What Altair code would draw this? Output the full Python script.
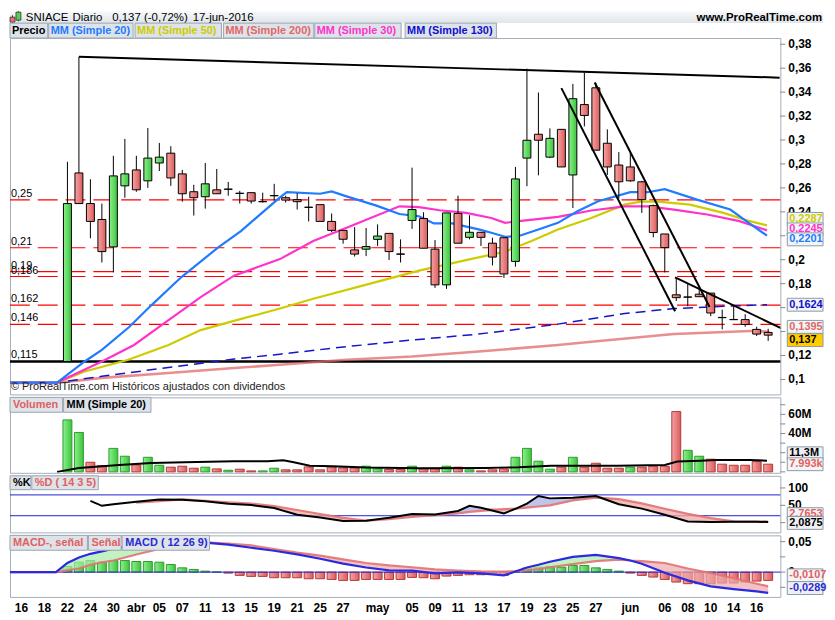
import altair as alt
import pandas as pd

# ====================== DATA ======================
# x = trading-day index counted from 16-mar-2016 (0) to 17-jun-2016 (65)
tick_idx = [0, 2, 4, 6, 8, 10, 12, 14, 16, 18, 20, 22, 24, 26, 28, 31, 34, 36, 38, 40,
            42, 44, 46, 48, 50, 53, 56, 58, 60, 62, 64]
tick_txt = ["16", "18", "22", "24", "30", "abr", "05", "07", "11", "13", "15", "19", "21",
            "25", "27", "may", "05", "09", "11", "13", "17", "19", "23", "25", "27", "jun",
            "06", "08", "10", "14", "16"]

# ---- daily candles (index 4 .. 65) ----
cdl_idx = list(range(4, 66))
cdl_open = [0.1150, 0.2725, 0.2469, 0.2336, 0.2107, 0.2617, 0.2750, 0.2659, 0.2808, 0.2890,
            0.2717, 0.2568, 0.2526, 0.2584, 0.2590, 0.2556, 0.2560, 0.2486, 0.2536, 0.2518,
            0.2502, 0.2439, 0.2460, 0.2320, 0.2245, 0.2082, 0.2088, 0.2170, 0.2220, 0.2048,
            0.2328, 0.2344, 0.2088, 0.1790, 0.2386, 0.2187, 0.2229, 0.2138, 0.2184, 0.1986,
            0.2849, 0.3048, 0.2857, 0.3089, 0.2708, 0.3296, 0.3436, 0.2973, 0.2791, 0.2775,
            0.2651, 0.2452, 0.2215, 0.1707, 0.1689, 0.1712, 0.1721, 0.1518, 0.1501, 0.1500,
            0.1418, 0.1393]
cdl_high = [0.2818, 0.3695, 0.2672, 0.2469, 0.2868, 0.3009, 0.2868, 0.3100, 0.2976, 0.2948,
            0.2750, 0.2626, 0.2808, 0.2758, 0.2650, 0.2575, 0.2560, 0.2560, 0.2634, 0.2535,
            0.2556, 0.2526, 0.2460, 0.2386, 0.2245, 0.2272, 0.2265, 0.2295, 0.2220, 0.2170,
            0.2769, 0.2397, 0.2165, 0.2391, 0.2535, 0.2372, 0.2229, 0.2184, 0.2184, 0.2775,
            0.3596, 0.3397, 0.3097, 0.3090, 0.3469, 0.3563, 0.3478, 0.3089, 0.2899, 0.2899,
            0.2659, 0.2460, 0.2215, 0.1853, 0.1799, 0.1771, 0.1721, 0.1583, 0.1619, 0.1545,
            0.1440, 0.1423]
cdl_low = [0.1150, 0.2469, 0.2179, 0.1977, 0.1894, 0.2518, 0.2568, 0.2600, 0.2741, 0.2617,
           0.2485, 0.2369, 0.2427, 0.2551, 0.2535, 0.2469, 0.2469, 0.2477, 0.2494, 0.2477,
           0.2419, 0.2320, 0.2320, 0.2230, 0.2134, 0.2027, 0.2030, 0.2115, 0.1997, 0.1977,
           0.2258, 0.2096, 0.1765, 0.1757, 0.2138, 0.2170, 0.2115, 0.1952, 0.1848, 0.1942,
           0.2614, 0.2705, 0.2849, 0.2775, 0.2432, 0.3114, 0.2915, 0.2708, 0.2510, 0.2651,
           0.2391, 0.2187, 0.1894, 0.1655, 0.1611, 0.1691, 0.1528, 0.1418, 0.1500, 0.1440,
           0.1363, 0.1322]
cdl_close = [0.2469, 0.2469, 0.2320, 0.2068, 0.2700, 0.2717, 0.2584, 0.2849, 0.2857, 0.2683,
             0.2551, 0.2518, 0.2634, 0.2551, 0.2588, 0.2553, 0.2490, 0.2484, 0.2534, 0.2498,
             0.2485, 0.2437, 0.2320, 0.2245, 0.2171, 0.2047, 0.2110, 0.2198, 0.2068, 0.2046,
             0.2419, 0.2096, 0.1790, 0.2391, 0.2138, 0.2229, 0.2187, 0.2022, 0.1881, 0.2675,
             0.2998, 0.2998, 0.3014, 0.2775, 0.3345, 0.3205, 0.2915, 0.2775, 0.2651, 0.2659,
             0.2502, 0.2227, 0.2101, 0.1683, 0.1687, 0.1691, 0.1555, 0.1516, 0.1499, 0.1459,
             0.1379, 0.1370]

# ---- moving averages on price ----
ma20_idx = [-1.47, 3.1, 5.5, 7.0, 9.4, 11.3, 13.9, 17.1, 19.1, 22.5, 23.1, 26.0, 27.0, 28.3,
            30.9, 32.9, 34.6, 35.9, 37.5, 39.8, 40.9, 42.1, 43.3, 45.0, 46.7, 48.4, 50.2, 53.0,
            54.5, 56.0, 58.8, 61.7, 63.1, 64.9]
ma20_val = [0.0974, 0.0974, 0.1150, 0.1247, 0.1440, 0.1619, 0.1853, 0.2101, 0.2239, 0.2521,
            0.2564, 0.2551, 0.2570, 0.2529, 0.2452, 0.2382, 0.2363, 0.2303, 0.2303, 0.2253,
            0.2225, 0.2192, 0.2198, 0.2253, 0.2308, 0.2405, 0.2488, 0.2564, 0.2564, 0.2589,
            0.2502, 0.2419, 0.2322, 0.2201]
ma50_idx = [-1.47, 3.1, 5.5, 9.3, 12.8, 15.6, 18.5, 22.5, 25.4, 29.7, 34.6, 38.7, 42.1, 44.4,
            46.7, 49.6, 52.5, 53.9, 55.4, 58.2, 61.1, 63.4, 64.9]
ma50_val = [0.0974, 0.0974, 0.1067, 0.1164, 0.1288, 0.1412, 0.1489, 0.1592, 0.1674, 0.1784,
            0.1909, 0.1997, 0.2068, 0.2157, 0.2253, 0.2349, 0.2460, 0.2485, 0.2485, 0.2460,
            0.2391, 0.2322, 0.2287]
ma200_idx = [-1.47, 3.1, 7.0, 12.8, 18.5, 22.5, 28.3, 34.0, 39.8, 46.7, 49.6, 56.8, 64.0, 65.1]
ma200_val = [0.0971, 0.0971, 0.1013, 0.1054, 0.1095, 0.1123, 0.1164, 0.1191, 0.1233, 0.1288,
             0.1315, 0.1379, 0.1406, 0.1395]
ma30_idx = [-1.47, 3.1, 7.0, 9.8, 12.8, 15.6, 18.5, 22.5, 25.4, 28.3, 32.9, 34.6, 36.4, 38.7,
            40.9, 42.1, 43.3, 46.7, 49.6, 52.5, 54.5, 56.8, 59.7, 62.5, 64.9]
ma30_val = [0.0974, 0.0974, 0.1150, 0.1288, 0.1495, 0.1688, 0.1867, 0.2005, 0.2157, 0.2267,
            0.2446, 0.2440, 0.2413, 0.2391, 0.2349, 0.2308, 0.2322, 0.2358, 0.2411, 0.2446,
            0.2446, 0.2419, 0.2378, 0.2322, 0.2245]
ma130_idx = [-1.47, 3.1, 7.0, 12.8, 18.5, 22.5, 28.3, 34.0, 39.8, 46.7, 52.5, 56.8, 61.1, 64.9]
ma130_val = [0.0974, 0.0974, 0.1026, 0.1100, 0.1170, 0.1211, 0.1274, 0.1329, 0.1379, 0.1462,
             0.1550, 0.1592, 0.1611, 0.1624]

# ---- drawn levels and trend lines ----
level_red = [0.25, 0.21, 0.19, 0.186, 0.162, 0.146]
level_black = [0.115]
trend_id = ["a", "a", "b", "b", "c", "c", "d", "d"]
trend_idx = [5.0, 66.0, 47.0, 56.9, 49.9, 59.9, 56.9, 66.3]
trend_val = [0.3695, 0.3521, 0.3433, 0.1569, 0.3480, 0.1605, 0.1853, 0.1420]

# ---- volume (millions) ----
vol_idx = list(range(4, 66))
vol_m = [54.2, 41.1, 10.0, 6.5, 24.5, 16.3, 7.3, 15.2, 6.9, 4.9, 5.9, 3.8, 4.9, 3.1, 1.7, 2.8,
         1.0, 1.0, 3.8, 2.1, 2.1, 5.2, 2.1, 4.9, 4.1, 4.1, 5.9, 3.1, 2.4, 2.4, 5.9, 3.1, 3.1,
         5.9, 4.9, 2.1, 1.0, 2.1, 3.1, 15.2, 24.5, 11.1, 2.8, 4.9, 15.2, 4.9, 9.0, 3.8, 3.8,
         4.9, 4.9, 5.9, 5.9, 62.9, 22.5, 16.3, 13.2, 8.0, 6.9, 6.9, 10.7, 8.0]
vol_dir = ["u", "u", "d", "d", "u", "u", "d", "u", "u", "d", "d", "d", "u", "d", "u", "d", "d",
           "u", "u", "d", "d", "d", "d", "d", "d", "d", "u", "u", "d", "d", "u", "d", "d", "u",
           "d", "u", "d", "d", "d", "u", "u", "u", "u", "d", "u", "d", "d", "d", "d", "u", "d",
           "d", "d", "d", "u", "u", "d", "d", "d", "d", "d", "d"]
volma_idx = [3.1, 5.0, 8.5, 11.3, 14.2, 18.5, 21.4, 22.8, 23.7, 25.1, 27.1, 30.0, 34.6, 40.4,
             43.3, 46.1, 51.9, 56.0, 57.1, 59.1, 60.5, 63.4, 64.9]
volma_val = [0.0, 4.1, 7.2, 9.3, 10.0, 11.1, 11.1, 12.1, 10.0, 6.5, 5.9, 4.5, 3.8, 4.1, 4.9,
             6.5, 6.5, 7.2, 10.7, 11.7, 12.4, 12.4, 11.7]

# ---- stochastic %K / %D ----
k_early_idx = [6, 7, 8]
k_early_val = [62.9, 48.6, 53.0]
sto_idx = [10, 12, 14, 16, 18, 20, 22, 24, 26, 28, 30, 32, 34, 36, 38, 39, 40, 42, 43, 44, 45,
           46, 48, 50, 52, 54, 56, 58, 60, 62, 64, 65]
sto_k = [60.5, 67, 66.3, 62, 54.5, 50.6, 42, 23, 15, 5, 5.7, 14, 25, 23.7, 33.6, 48.6, 43,
         26.6, 40, 55, 77, 70, 71.5, 76.5, 53, 40.5, 22.7, 3.5, 1.7, 2.9, 2.5, 2.1]
sto_d = [57.7, 62, 67, 62.8, 58.4, 55, 47.5, 36.6, 25, 13.7, 5.7, 10.2, 16.7, 21.7, 27, 31,
         34.2, 39, 40.7, 43.3, 46.6, 50, 64, 72, 68, 55.5, 40, 25.4, 13, 3.7, 2.9, 2.8]

# ---- MACD (12 26 9) ----
mac_idx = [-1.47, 3, 4, 5, 6, 7, 8, 10, 12, 14, 16, 18, 20, 22, 24, 26, 28, 30, 32, 34, 36,
           38, 40, 42, 43, 44, 45, 46, 48, 50, 52, 53, 54, 56, 58, 60, 62, 64, 65]
mac_m = [0, 0, 0.015, 0.024, 0.030, 0.034, 0.0385, 0.045, 0.048, 0.050, 0.0485, 0.045, 0.040,
         0.035, 0.029, 0.022, 0.014, 0.0075, 0.003, 0.0025, -0.002, -0.0005, -0.002, -0.0054,
         0.001, 0.0075, 0.012, 0.017, 0.025, 0.0282, 0.023, 0.019, 0.0137, -0.001, -0.0136,
         -0.0233, -0.0278, -0.0316, -0.0342]
mac_s = [0, 0, 0.003, 0.006, 0.012, 0.016, 0.019, 0.029, 0.038, 0.045, 0.0489, 0.047, 0.044,
         0.038, 0.032, 0.027, 0.021, 0.015, 0.011, 0.008, 0.0045, 0.0025, 0.0012, 0.001,
         0.0015, 0.003, 0.005, 0.008, 0.013, 0.018, 0.0205, 0.019, 0.018, 0.015, 0.006,
         -0.0015, -0.0098, -0.019, -0.0233]
hist_idx = list(range(4, 66))
hist_val = [0.0093, 0.0163, 0.019, 0.0163, 0.019, 0.019, 0.0174, 0.0174, 0.0163, 0.0125,
            0.007, 0.0044, 0.0016, 0.0003, -0.0016, -0.0054, -0.007, -0.007, -0.0092, -0.0092,
            -0.0092, -0.0109, -0.0109, -0.012, -0.0136, -0.0136, -0.012, -0.012, -0.012,
            -0.012, -0.0087, -0.0092, -0.0109, -0.0065, -0.0054, -0.0043, -0.0043, -0.0033,
            -0.0054, 0.0011, 0.0065, 0.0081, 0.0093, 0.0081, 0.0109, 0.0109, 0.007, 0.0044,
            0.0016, -0.0016, -0.0054, -0.0081, -0.012, -0.0163, -0.019, -0.019, -0.019,
            -0.0179, -0.0179, -0.0163, -0.0147, -0.0136]

# ---- right-hand scales (tick values and labels; labels covered by value boxes are blank) ----
price_ticks = [0.1, 0.12, 0.14, 0.16, 0.18, 0.2, 0.22, 0.24, 0.26, 0.28, 0.3, 0.32, 0.34,
               0.36, 0.38]
price_tick_txt = ["0,1", "0,12", "", "", "0,18", "0,2", "", "0,24", "0,26", "0,28", "0,3",
                  "0,32", "0,34", "0,36", "0,38"]
vol_ticks = [0, 10, 20, 30, 40, 50, 60, 70]
vol_tick_txt = ["", "", "", "", "40M", "", "60M", ""]
sto_ticks = [0, 50, 100]
sto_tick_txt = ["", "50", "100"]
mac_ticks = [-0.025, 0, 0.025, 0.05]
mac_tick_txt = ["", "0", "", "0,05"]

# ---- texts ----
title_parts = ["SNIACE", "Diario", "0,137 (-0,72%)", "17-jun-2016"]
site_txt = "www.ProRealTime.com"
legend_txt = ["Precio", "MM (Simple 20)", "MM (Simple 50)", "MM (Simple 200)",
              "MM (Simple 30)", "MM (Simple 130)"]
watermark = "© ProRealTime.com  Históricos ajustados con dividendos"
vol_tags = ["Volumen", "MM (Simple 20)"]
sto_tags = ["%K", "%D ( 14 3 5)"]
mac_tags = ["MACD-, señal", "Señal", "MACD ( 12 26 9)"]
price_box_val = [0.2287, 0.2245, 0.2201, 0.1624, 0.1395, 0.137]
price_box_txt = ["0,2287", "0,2245", "0,2201", "0,1624", "0,1395", "0,137"]
vol_box_val = [11.3, 7.993]
vol_box_txt = ["11,3M", "7.993k"]
sto_box_val = [2.7653, 2.0875]
sto_box_txt = ["2,7653", "2,0875"]
mac_box_val = [-0.0107, -0.0289]
mac_box_txt = ["-0,0107", "-0,0289"]

# ====================== STYLE / LAYOUT ======================
FONT = "Liberation Sans"
W = 776
HH = 27
H1, H2, H3, H4 = 359, 76, 57, 62
X_DOM = [-1.0, 66.06]
P_DOM = [0.0875, 0.3852]
V_DOM = [-1.0, 77.7]
S_DOM = [-28.0, 135.0]
M_DOM = [-0.0407, 0.0603]
C_MA20, C_MA50, C_MA200, C_MA30, C_MA130 = "#1f7bff", "#cccc00", "#e06868", "#ff33cc", "#1414c8"
C_RED_TXT = "#e06060"
AX_GRAY = "#7f8b97"
TAG_FILL, TAG_STROKE = "#dde3e9", "#9aa5b0"

xs = alt.Scale(domain=X_DOM, nice=False, zero=False, padding=0)
ps = alt.Scale(domain=P_DOM, nice=False, zero=False, padding=0)
vs = alt.Scale(domain=V_DOM, nice=False, zero=False, padding=0)
ss = alt.Scale(domain=S_DOM, nice=False, zero=False, padding=0)
ms = alt.Scale(domain=M_DOM, nice=False, zero=False, padding=0)

one = pd.DataFrame({"k": [0]})


def grad(c0, c1):
    return alt.LinearGradient(gradient="linear", x1=0, x2=1, y1=0, y2=0,
                              stops=[alt.GradientStop(color=c0, offset=0),
                                     alt.GradientStop(color=c1, offset=1)])


G_UP = grad("#8ef08e", "#3cc43c")
G_DN = grad("#f6a3a3", "#dc5c5c")


def vrect(x0, x1, y0, y1, **kw):
    return alt.Chart(one).mark_rect(**kw).encode(
        x=alt.value(x0), x2=alt.value(x1), y=alt.value(y0), y2=alt.value(y1))


def vtext(x, y, s, **kw):
    opts = dict(font=FONT, fontSize=11, align="left", baseline="middle", color="black")
    opts.update(kw)
    return alt.Chart(one).mark_text(text=s, **opts).encode(x=alt.value(x), y=alt.value(y))


def tags(xr, texts, colors, y0, y1, pad=3):
    out = []
    for (a, b), t, c in zip(xr, texts, colors):
        out.append(vrect(a, b, y0, y1, fill=TAG_FILL, stroke=TAG_STROKE, strokeWidth=1))
        out.append(vtext(a + pad, (y0 + y1) / 2 + 0.5, t, fontWeight="bold", color=c))
    return out


def right_scale(vals, txts, sc):
    df = pd.DataFrame({"v": vals, "t": txts})
    return [
        alt.Chart(df).mark_rule(color=AX_GRAY, strokeWidth=1).encode(
            x=alt.value(W), x2=alt.value(W + 5), y=alt.Y("v:Q", scale=sc, axis=None)),
        alt.Chart(df).transform_filter(alt.datum.t != "").mark_text(
            font=FONT, fontSize=12, fontWeight="bold", color="black",
            align="left", baseline="middle").encode(
            x=alt.value(W + 8), y=alt.Y("v:Q", scale=sc, axis=None), text="t:N"),
    ]


def vboxes(vals, txts, shifts, fills, tcols, dom, H, sc):
    per_px = (dom[1] - dom[0]) / H
    pos = [v - s * per_px for v, s in zip(vals, shifts)]
    df = pd.DataFrame({"pos": pos, "txt": txts, "fill": fills, "tc": tcols})
    df["y0"] = df["pos"] + 6.5 * per_px
    df["y1"] = df["pos"] - 6.5 * per_px
    out = []
    for i in range(len(df)):
        b = alt.Chart(df.iloc[[i]])
        out.append(b.mark_rect(stroke="#8d99a5", strokeWidth=1).encode(
            x=alt.value(W + 7), x2=alt.value(W + 43),
            y=alt.Y("y0:Q", scale=sc, axis=None), y2="y1:Q",
            fill=alt.Fill("fill:N", scale=None)))
        out.append(b.mark_text(font=FONT, fontSize=11, fontWeight="bold", align="left",
                               baseline="middle").encode(
            x=alt.value(W + 9), y=alt.Y("pos:Q", scale=sc, axis=None), text="txt:N",
            color=alt.Color("tc:N", scale=None)))
    return out


def xq(field="idx"):
    return alt.X(f"{field}:Q", scale=xs, axis=None)


# ====================== HEADER ======================
hdr = [
    alt.Chart(one).mark_rect(fill=alt.LinearGradient(
        gradient="linear", x1=0, x2=0, y1=0, y2=1,
        stops=[alt.GradientStop(color="#f7f9fb", offset=0),
               alt.GradientStop(color="#dfe5ea", offset=1)])).encode(
        x=alt.value(0), x2=alt.value(W + 43), y=alt.value(0), y2=alt.value(12)),
    vrect(2, 3, 4, 12, fill="#333"),
    vrect(0, 5, 6, 11, fill="#ee7070", stroke="#333", strokeWidth=0.8),
    vrect(8, 9, 0, 10, fill="#333"),
    vrect(6, 11, 1, 9, fill="#55d055", stroke="#333", strokeWidth=0.8),
]
for x, t in zip([16, 63, 103, 184], title_parts):
    hdr.append(vtext(x, 6.5, t, fontSize=11.5))
hdr.append(vtext(W + 42, 6.5, site_txt, fontWeight="bold", align="right", fontSize=11.5))
leg_x = [(0, 38), (39, 124), (126, 213), (215, 306), (307, 394), (398, 490)]
leg_c = ["black", C_MA20, C_MA50, C_MA200, C_MA30, "#1010cc"]
hdr += tags(leg_x, legend_txt, leg_c, 12, HH, pad=2)
header = alt.layer(*hdr).properties(width=W, height=HH,
                                    view=alt.ViewBackground(stroke="transparent"))

# ====================== PRICE PANEL ======================
cdf = pd.DataFrame({"idx": cdl_idx, "o": cdl_open, "h": cdl_high, "l": cdl_low,
                    "c": cdl_close})
cdf["dir"] = ["u" if c >= o else "d" for o, c in zip(cdl_open, cdl_close)]

lvl_df = pd.DataFrame({"v": level_red})
lvl_df["t"] = [str(v).replace(".", ",") for v in level_red]
blk_df = pd.DataFrame({"v": level_black})
blk_df["t"] = [str(v).replace(".", ",") for v in level_black]

p_layers = [
    alt.Chart(lvl_df).mark_rule(color="#ff0000", strokeWidth=1.2, strokeDash=[20, 8]).encode(
        y=alt.Y("v:Q", scale=ps, axis=None)),
    alt.Chart(blk_df).mark_rule(color="black", strokeWidth=2.5).encode(
        y=alt.Y("v:Q", scale=ps, axis=None)),
]
p_layers += right_scale(price_ticks, price_tick_txt, ps)


def ma_line(ix, vals, color, width=2.0, dash=None, opacity=1.0):
    kw = dict(color=color, strokeWidth=width, clip=True, opacity=opacity)
    if dash:
        kw["strokeDash"] = dash
    return alt.Chart(pd.DataFrame({"idx": ix, "v": vals})).mark_line(**kw).encode(
        x=xq(), y=alt.Y("v:Q", scale=ps, axis=None))


p_layers += [
    ma_line(ma200_idx, ma200_val, C_MA200, 2.6, opacity=0.75),
    ma_line(ma130_idx, ma130_val, C_MA130, 1.5, dash=[10, 6]),
    ma_line(ma50_idx, ma50_val, C_MA50, 2.2),
    ma_line(ma30_idx, ma30_val, C_MA30, 2.2),
    ma_line(ma20_idx, ma20_val, C_MA20, 2.2),
    alt.Chart(cdf).mark_rule(color="black", strokeWidth=1).encode(
        x=xq(), y=alt.Y("l:Q", scale=ps, axis=None), y2="h:Q"),
    alt.Chart(cdf).transform_filter(alt.datum.dir == "u").mark_bar(
        width=8, fill=G_UP, stroke="black", strokeWidth=1).encode(
        x=xq(), y=alt.Y("o:Q", scale=ps, axis=None), y2="c:Q"),
    alt.Chart(cdf).transform_filter(alt.datum.dir == "d").mark_bar(
        width=8, fill=G_DN, stroke="black", strokeWidth=1).encode(
        x=xq(), y=alt.Y("o:Q", scale=ps, axis=None), y2="c:Q"),
    alt.Chart(pd.DataFrame({"id": trend_id, "idx": trend_idx, "v": trend_val})).mark_line(
        color="black", strokeWidth=2, clip=True).encode(
        x=xq(), y=alt.Y("v:Q", scale=ps, axis=None), detail="id:N"),
    alt.Chart(lvl_df).mark_text(font=FONT, fontSize=11, align="left", baseline="bottom",
                                dy=-1, color="black").encode(
        x=alt.value(1), y=alt.Y("v:Q", scale=ps, axis=None), text="t:N"),
    alt.Chart(blk_df).mark_text(font=FONT, fontSize=11, align="left", baseline="bottom",
                                dy=-2, color="black").encode(
        x=alt.value(1), y=alt.Y("v:Q", scale=ps, axis=None), text="t:N"),
    vtext(1, H1 - 7, watermark, color="#222"),
]
p_layers += vboxes(price_box_val, price_box_txt, [-6.5, -1, 3.7, 0, -5.3, 5],
                   ["#f2f4f6"] * 5 + ["#ffcc00"],
                   [C_MA50, C_MA30, C_MA20, "#1010cc", C_MA200, "black"], P_DOM, H1, ps)
price = alt.layer(*p_layers).properties(width=W, height=H1)

# ====================== VOLUME PANEL ======================
vdf = pd.DataFrame({"idx": vol_idx, "v": vol_m, "dir": vol_dir})
v_layers = [
    alt.Chart(vdf).transform_filter(alt.datum.dir == "u").mark_bar(
        width=9, fill=G_UP, stroke="#2f9a2f", strokeWidth=1).encode(
        x=xq(), y=alt.Y("v:Q", scale=vs, axis=None)),
    alt.Chart(vdf).transform_filter(alt.datum.dir == "d").mark_bar(
        width=9, fill=G_DN, stroke="#b23a3a", strokeWidth=1).encode(
        x=xq(), y=alt.Y("v:Q", scale=vs, axis=None)),
    alt.Chart(pd.DataFrame({"idx": volma_idx, "v": volma_val})).mark_line(
        color="black", strokeWidth=2, clip=True).encode(
        x=xq(), y=alt.Y("v:Q", scale=vs, axis=None)),
]
v_layers += right_scale(vol_ticks, vol_tick_txt, vs)
v_layers += tags([(0, 53), (54, 142)], vol_tags, [C_RED_TXT, "black"], 0, 15)
v_layers += vboxes(vol_box_val, vol_box_txt, [-7.8, 0], ["#eef1f4", "#f2f4f6"],
                   ["black", C_RED_TXT], V_DOM, H2, vs)
volume = alt.layer(*v_layers).properties(width=W, height=H2)

# ====================== STOCHASTIC PANEL ======================
sdf = pd.DataFrame({"idx": sto_idx, "K": sto_k, "D": sto_d})
kdf = pd.DataFrame({"idx": k_early_idx + sto_idx, "K": k_early_val + sto_k})
s_base = alt.Chart(sdf).transform_calculate(hi="max(datum.K, datum.D)")
s_layers = [
    alt.Chart(pd.DataFrame({"v": [80, 20]})).mark_rule(color="#2020d0", strokeWidth=1).encode(
        y=alt.Y("v:Q", scale=ss, axis=None)),
    s_base.mark_area(color="#f0a8a8", opacity=0.75).encode(
        x=xq(), y=alt.Y("K:Q", scale=ss, axis=None), y2="hi:Q"),
    s_base.mark_area(color="#aab0e0", opacity=0.75).encode(
        x=xq(), y=alt.Y("D:Q", scale=ss, axis=None), y2="hi:Q"),
    alt.Chart(sdf).mark_line(color="#e27272", strokeWidth=2.2, opacity=0.9).encode(
        x=xq(), y=alt.Y("D:Q", scale=ss, axis=None)),
    alt.Chart(kdf).mark_line(color="black", strokeWidth=2).encode(
        x=xq(), y=alt.Y("K:Q", scale=ss, axis=None)),
]
s_layers += right_scale(sto_ticks, sto_tick_txt, ss)
s_layers += tags([(0, 21), (22, 89)], sto_tags, ["black", C_RED_TXT], 0, 14)
s_layers += vboxes(sto_box_val, sto_box_txt, [-7.6, 1], ["#f2f4f6", "#eef1f4"],
                   [C_RED_TXT, "black"], S_DOM, H3, ss)
stoch = alt.layer(*s_layers).properties(width=W, height=H3)

# ====================== MACD PANEL ======================
tdf = pd.DataFrame({"idx": tick_idx, "t": tick_txt})
hdf = pd.DataFrame({"idx": hist_idx, "v": hist_val})
hdf["dir"] = ["u" if v >= 0 else "d" for v in hist_val]
mdf = pd.DataFrame({"idx": mac_idx, "M": mac_m, "S": mac_s})
m_base = alt.Chart(mdf).transform_calculate(hi="max(datum.M, datum.S)")
m_layers = [
    alt.Chart(hdf).transform_filter(alt.datum.dir == "u").mark_bar(
        width=9, fill=G_UP, stroke="#2f9a2f", strokeWidth=1).encode(
        x=xq(), y=alt.Y("v:Q", scale=ms, axis=None)),
    alt.Chart(hdf).transform_filter(alt.datum.dir == "d").mark_bar(
        width=9, fill=G_DN, stroke="#b23a3a", strokeWidth=1).encode(
        x=xq(), y=alt.Y("v:Q", scale=ms, axis=None)),
    alt.Chart(pd.DataFrame({"v": [0]})).mark_rule(color="#2020d0", strokeWidth=1).encode(
        y=alt.Y("v:Q", scale=ms, axis=None)),
    m_base.mark_area(color="#a8eca8", opacity=0.7, clip=True).encode(
        x=xq(), y=alt.Y("S:Q", scale=ms, axis=None), y2="hi:Q"),
    m_base.mark_area(color="#f0a8a8", opacity=0.7, clip=True).encode(
        x=xq(), y=alt.Y("M:Q", scale=ms, axis=None), y2="hi:Q"),
    alt.Chart(mdf).mark_line(color="#e27272", strokeWidth=2.2, opacity=0.9, clip=True).encode(
        x=xq(), y=alt.Y("S:Q", scale=ms, axis=None)),
    alt.Chart(mdf).mark_line(color="#2a2ae0", strokeWidth=2.2, clip=True).encode(
        x=xq(), y=alt.Y("M:Q", scale=ms, axis=None)),
    alt.Chart(tdf).mark_text(font=FONT, fontSize=12, fontWeight="bold", color="black",
                             baseline="middle", align="center").encode(
        x=xq(), y=alt.value(H4 + 11), text="t:N"),
]
m_layers += right_scale(mac_ticks, mac_tick_txt, ms)
m_layers += tags([(0, 78), (79, 112), (113, 201)], mac_tags,
                 [C_RED_TXT, C_RED_TXT, "#2a2ad0"], 0, 15)
m_layers += vboxes(mac_box_val, mac_box_txt, [-3.3, -1.7], ["#f2f4f6", "#eef1f4"],
                   [C_RED_TXT, "#2a2ad0"], M_DOM, H4, ms)
macd = alt.layer(*m_layers).properties(width=W, height=H4)

# ====================== ASSEMBLY ======================
body = alt.vconcat(price, volume, stoch, macd, spacing=3, bounds="flush")
chart = alt.vconcat(header, body, spacing=0, bounds="flush").properties(
    padding={"left": 0, "top": 0, "right": 0, "bottom": 0}, background="white"
).configure_view(stroke="#a3adb7", strokeWidth=1)

chart.save("out.html", embed_options={"renderer": "svg", "actions": False})
